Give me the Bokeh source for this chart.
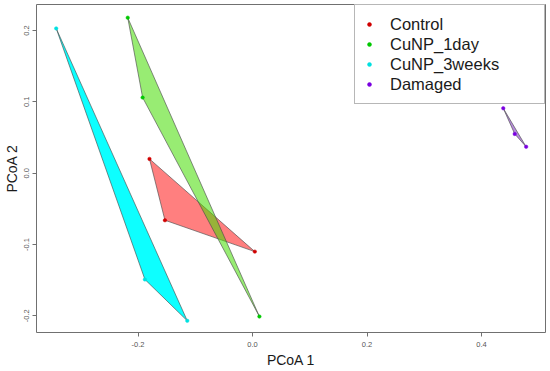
from bokeh.plotting import figure
from bokeh.models import FixedTicker, Legend, LegendItem, PrintfTickFormatter, Range1d
from bokeh.embed import file_html
from bokeh.resources import INLINE

# ---- data ----
groups = ["Control", "CuNP_1day", "CuNP_3weeks", "Damaged"]
control_x = [-0.180, -0.153, 0.004]
control_y = [0.020, -0.066, -0.110]
day1_x = [-0.218, -0.192, 0.012]
day1_y = [0.218, 0.106, -0.201]
weeks3_x = [-0.343, -0.188, -0.114]
weeks3_y = [0.203, -0.149, -0.207]
damaged_x = [0.438, 0.458, 0.478]
damaged_y = [0.091, 0.055, 0.037]
x_ticks = [-0.2, 0.0, 0.2, 0.4]
y_ticks = [-0.2, -0.1, 0.0, 0.1, 0.2]

FONT = "Liberation Sans"

p = figure(width=550, height=371, output_backend="svg", toolbar_location=None,
           x_range=Range1d(-0.3774, 0.5118), y_range=Range1d(-0.2234, 0.2365),
           min_border_left=34, min_border_right=5, min_border_top=4, min_border_bottom=39)
p.background_fill_color = "white"
p.border_fill_color = "white"
p.outline_line_color = "#707070"
p.outline_line_width = 1
p.xgrid.visible = False
p.ygrid.visible = False

for ax in (p.xaxis[0], p.yaxis[0]):
    ax.axis_line_color = None
    ax.major_tick_line_color = "#707070"
    ax.major_tick_out = 4
    ax.major_tick_in = 0
    ax.minor_tick_line_color = None
    ax.major_label_text_font = FONT
    ax.major_label_text_font_size = "7.5px"
    ax.major_label_text_color = "#555555"
    ax.axis_label_text_font = FONT
    ax.axis_label_text_font_size = "14px"
    ax.axis_label_text_font_style = "normal"
    ax.axis_label_text_color = "#1a1a1a"
    ax.formatter = PrintfTickFormatter(format="%.1f")

p.xaxis.ticker = FixedTicker(ticks=x_ticks)
p.yaxis.ticker = FixedTicker(ticks=y_ticks)
p.xaxis.axis_label = "PCoA 1"
p.yaxis.axis_label = "PCoA 2"
p.xaxis.major_label_standoff = 5
p.xaxis.axis_label_standoff = 2
p.yaxis.major_label_standoff = 3
p.yaxis.axis_label_standoff = 2
p.yaxis.major_label_orientation = "vertical"

edge = "#4a4a4a"
# hulls (cyan behind, green over red)
p.patch(weeks3_x, weeks3_y, fill_color="#00FFFF", fill_alpha=0.95,
        line_color=edge, line_alpha=0.8, line_width=0.8)
p.patch(control_x, control_y, fill_color="#FF0000", fill_alpha=0.5,
        line_color=edge, line_alpha=0.8, line_width=0.8)
p.patch(day1_x, day1_y, fill_color="#44DD00", fill_alpha=0.55,
        line_color=edge, line_alpha=0.8, line_width=0.8)
p.patch(damaged_x, damaged_y, fill_color="#7B2FBF", fill_alpha=0.55,
        line_color=edge, line_alpha=0.8, line_width=0.8)

dot_colors = ["#D00000", "#00C800", "#00E0E0", "#7A00E0"]
xs = [control_x, day1_x, weeks3_x, damaged_x]
ys = [control_y, day1_y, weeks3_y, damaged_y]
items = []
for g, c, x, y in zip(groups, dot_colors, xs, ys):
    r = p.scatter(x, y, size=3.5, fill_color=c, line_color=c, line_width=0.5)
    items.append(LegendItem(label=g, renderers=[r]))

legend = Legend(items=items, location="top_right", margin=0, padding=9, spacing=0,
                glyph_width=10, glyph_height=20, label_height=20, label_standoff=16,
                label_width=145, border_line_color="#707070", border_line_width=1,
                background_fill_color="white", background_fill_alpha=1,
                label_text_font=FONT, label_text_font_size="16.5px",
                label_text_color="#1a1a1a")
p.add_layout(legend)

open("out.html", "w").write(file_html(p, INLINE))
